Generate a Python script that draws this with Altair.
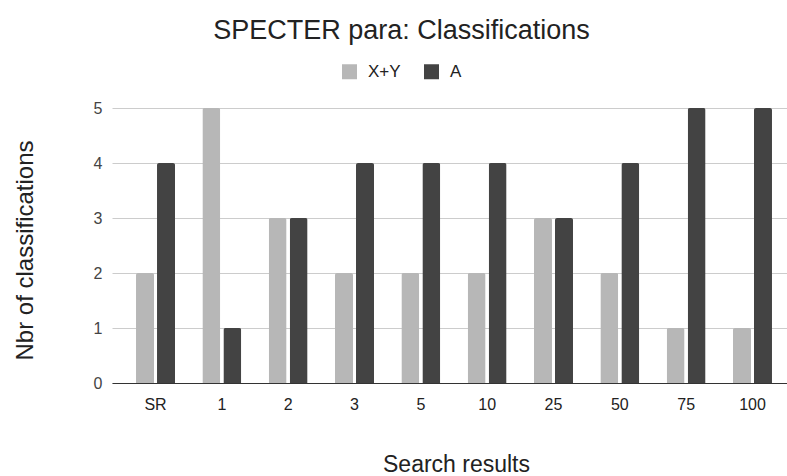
import altair as alt
import pandas as pd

categories = ["SR", "1", "2", "3", "5", "10", "25", "50", "75", "100"]
series_names = ["X+Y", "A"]
xy_values = [2, 5, 3, 2, 2, 2, 3, 2, 1, 1]
a_values = [4, 1, 3, 4, 4, 4, 3, 4, 5, 5]
y_ticks = [0, 1, 2, 3, 4, 5]

rows = []
for c, v in zip(categories, xy_values):
    rows.append({"cat": c, "series": "X+Y", "value": v})
for c, v in zip(categories, a_values):
    rows.append({"cat": c, "series": "A", "value": v})
df = pd.DataFrame(rows)

FONT = "Liberation Sans"

chart = alt.Chart(df).mark_bar(
    cornerRadiusTopLeft=2, cornerRadiusTopRight=2
).encode(
    x=alt.X(
        "cat:N",
        sort=categories,
        scale=alt.Scale(range=[0, 684], paddingInner=0.412, paddingOuter=0.362),
        axis=alt.Axis(
            title="Search results",
            labelAngle=0,
            ticks=False,
            domainColor="#333333",
            domainWidth=1.2,
            labelPadding=13,
            labelFontSize=16,
            labelColor="#222222",
            labelFont=FONT,
            titleFont=FONT,
            titleFontSize=23,
            titleFontWeight="normal",
            titleColor="#222222",
            titleX=344,
            titleY=88,
            titleBaseline="alphabetic",
            titleAlign="center",
        ),
    ),
    xOffset=alt.XOffset("series:N", sort=series_names, scale=alt.Scale(paddingInner=0.143)),
    y=alt.Y(
        "value:Q",
        scale=alt.Scale(domain=[0, 5]),
        axis=alt.Axis(
            title="Nbr of classifications",
            values=y_ticks,
            format="d",
            ticks=False,
            domain=False,
            gridColor="#cccccc",
            labelPadding=10,
            labelFontSize=16,
            labelColor="#444444",
            labelFont=FONT,
            titleFont=FONT,
            titleFontSize=24,
            titleFontWeight="normal",
            titleColor="#222222",
            titleX=-80,
            titleY=142,
            titleAngle=270,
            titleBaseline="alphabetic",
            titleAlign="center",
        ),
    ),
    color=alt.Color(
        "series:N",
        sort=series_names,
        scale=alt.Scale(domain=series_names, range=["#b7b7b7", "#434343"]),
        legend=alt.Legend(
            title=None,
            orient="none",
            direction="horizontal",
            legendX=229,
            legendY=-45,
            symbolType="square",
            symbolSize=225,
            symbolStrokeWidth=0,
            labelFontSize=17,
            labelFont=FONT,
            labelColor="#222222",
            labelOffset=10,
            columnPadding=22,
        ),
    ),
).properties(
    width=675,
    height=275,
    title=alt.TitleParams(
        text="SPECTER para: Classifications",
        font=FONT,
        fontSize=27,
        fontWeight="normal",
        color="#222222",
        anchor="middle",
        dx=-48,
        offset=18,
    ),
    autosize=alt.AutoSizeParams(type="none"),
    padding={"left": 112, "top": 108, "right": 0, "bottom": 93},
).configure_view(stroke=None)

chart.save("out.html", embed_options={"renderer": "svg", "actions": False})
